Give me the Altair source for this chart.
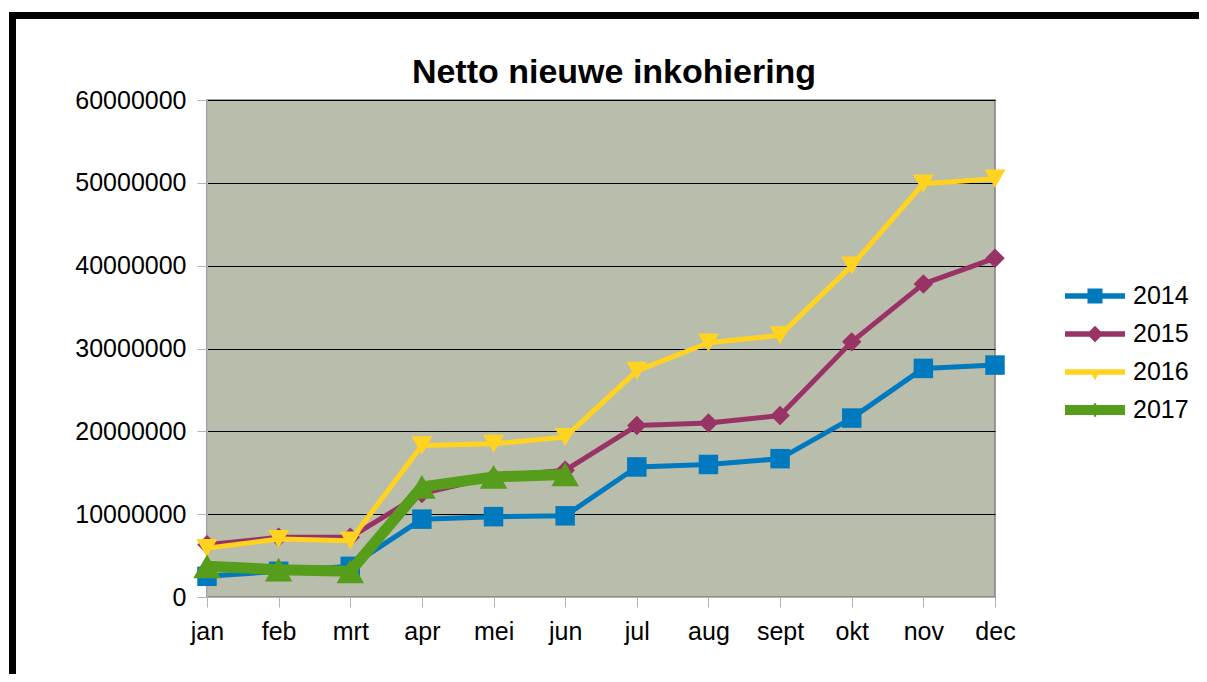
import altair as alt
import pandas as pd

months = ["jan", "feb", "mrt", "apr", "mei", "jun", "jul", "aug", "sept", "okt", "nov", "dec"]
years = ["2014", "2015", "2016", "2017"]
v2014 = [2500000, 3100000, 3700000, 9400000, 9700000, 9800000, 15700000, 16000000, 16700000, 21600000, 27600000, 28000000]
v2015 = [6300000, 7200000, 7200000, 12500000, 14500000, 15300000, 20700000, 21000000, 21900000, 30800000, 37800000, 40900000]
v2016 = [5900000, 7000000, 6800000, 18300000, 18500000, 19300000, 27300000, 30700000, 31600000, 40000000, 49900000, 50500000]
v2017 = [3700000, 3300000, 3100000, 13300000, 14500000, 14800000]
y_ticks = [0, 10000000, 20000000, 30000000, 40000000, 50000000, 60000000]

series = {"2014": v2014, "2015": v2015, "2016": v2016, "2017": v2017}
rows = []
for yr, vals in series.items():
    for m, v in zip(months, vals):
        rows.append({"month": m, "year": yr, "value": v})
df = pd.DataFrame(rows)

colors = ["#0079bf", "#993366", "#ffd320", "#579d1c"]
shapes = ["square", "diamond", "triangle-down", "triangle-up"]
sizes = [380, 380, 440, 760]
widths = [5, 5, 5, 11]
legend_paths = [
    "M-2,-0.18H2V0.18H-2Z M-0.5,-0.5H0.5V0.5H-0.5Z",
    "M-2,-0.18H2V0.18H-2Z M0,-0.55L0.55,0L0,0.55L-0.55,0Z",
    "M-2,-0.18H2V0.18H-2Z M-0.4,-0.18L0.4,-0.18L0,0.55Z",
    "M-2,-0.33H2V0.33H-2Z M-0.08,-0.45L0.08,-0.45L0.08,0.45L-0.08,0.45Z",
]

FONT = "Liberation Sans"

x_enc = alt.X(
    "month:N", sort=months, title=None,
    scale=alt.Scale(type="point", padding=0, domain=months),
    axis=alt.Axis(labelAngle=0, labelFontSize=25, labelColor="black", labelFont=FONT,
                  tickColor="#b3b3b3", tickSize=10, labelPadding=12, domainColor="#b3b3b3",
                  grid=False, labelOverlap=False, labelBound=False, labelFlush=False),
)
y_enc = alt.Y(
    "value:Q", title=None,
    scale=alt.Scale(domain=[0, 60000000], nice=False, zero=True),
    axis=alt.Axis(values=y_ticks, format="d", labelFontSize=25, labelColor="black", labelFont=FONT,
                  tickColor="#b3b3b3", tickSize=10, labelPadding=11, domainColor="#b3b3b3",
                  grid=True, gridColor="black", gridWidth=1, gridOpacity=1),
)

base = alt.Chart(df)
layers = []
for yr, col, shp, sz, w in zip(years, colors, shapes, sizes, widths):
    sub = base.transform_filter(alt.datum.year == yr)
    layers.append(sub.mark_line(color=col, strokeWidth=w, strokeJoin="round").encode(x=x_enc, y=y_enc))
    layers.append(sub.mark_point(shape=shp, filled=True, size=sz, color=col, opacity=1, strokeWidth=0).encode(x=x_enc, y=y_enc))

legend = alt.Legend(title=None, orient="none", legendX=873, legendY=181, symbolSize=900,
                    symbolStrokeWidth=0, symbolOpacity=1, labelFontSize=25, labelFont=FONT,
                    labelColor="black", labelOffset=23, rowPadding=10, padding=0)
legend_layer = base.mark_point(filled=True, opacity=0, size=10).encode(
    x=x_enc, y=y_enc,
    color=alt.Color("year:N", scale=alt.Scale(domain=years, range=colors), legend=legend),
    shape=alt.Shape("year:N", scale=alt.Scale(domain=years, range=legend_paths), legend=legend),
)

frame = alt.Chart(pd.DataFrame({"a": [0]})).mark_rect(
    fill="transparent", stroke="black", strokeWidth=7, clip=False
).encode(x=alt.value(-194.5), x2=alt.value(1100), y=alt.value(-84.5), y2=alt.value(700))

chart = alt.layer(frame, *layers, legend_layer).properties(
    width=788, height=497,
    background="white",
    title=alt.TitleParams("Netto nieuwe inkohiering", fontSize=34, fontWeight="bold", font=FONT,
                          color="black", anchor="middle", dx=13, offset=-105, baseline="alphabetic"),
    autosize=alt.AutoSizeParams(type="none"),
    padding={"left": 199, "top": 92, "right": 204, "bottom": 77},
).configure_view(fill="#b9bdac", stroke="#808080", strokeWidth=1.5)

chart.save("out.html", embed_options={"renderer": "svg", "actions": False})
